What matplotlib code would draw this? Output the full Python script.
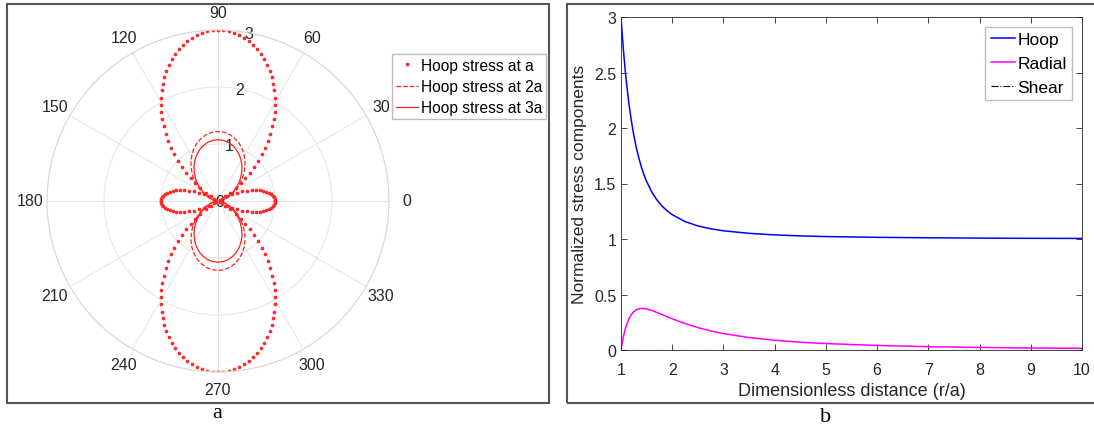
import numpy as np
import matplotlib.pyplot as plt
from matplotlib.patches import Rectangle
from matplotlib.transforms import ScaledTranslation

plt.rcParams['font.family'] = ['Liberation Sans', 'DejaVu Sans']

# panel a: normalised hoop stress around the hole, one quadrant read off
# the polar plot (the figure is symmetric about both axes)
theta_dots = np.arange(0, 90.1, 1.8)          # degrees
hoop_at_a = [1.000, 0.996, 0.984, 0.965, 0.937, 0.902, 0.860, 0.810, 0.753,
             0.689, 0.618, 0.541, 0.458, 0.369, 0.275, 0.176, 0.072, 0.037,
             0.148, 0.264, 0.382, 0.503, 0.625, 0.749, 0.874, 1.000, 1.126,
             1.251, 1.375, 1.497, 1.618, 1.736, 1.852, 1.963, 2.071, 2.176,
             2.275, 2.369, 2.458, 2.541, 2.618, 2.689, 2.753, 2.810, 2.860,
             2.902, 2.937, 2.965, 2.984, 2.996, 3.000]
theta_lines = np.arange(0, 90.1, 5)           # degrees
hoop_at_2a = [0.031, 0.040, 0.067, 0.111, 0.170, 0.243, 0.328, 0.422, 0.522,
              0.625, 0.728, 0.828, 0.922, 1.007, 1.080, 1.139, 1.183, 1.210,
              1.219]
hoop_at_3a = [0.037, 0.045, 0.068, 0.107, 0.158, 0.222, 0.296, 0.378, 0.465,
              0.556, 0.646, 0.733, 0.815, 0.889, 0.953, 1.005, 1.044, 1.067,
              1.074]
polar_labels = ['Hoop stress at a', 'Hoop stress at 2a', 'Hoop stress at 3a']

# panel b: stress components along the line from the hole edge
r_over_a = [1, 1.02, 1.05, 1.08, 1.1, 1.15, 1.2, 1.25, 1.3, 1.35, 1.4, 1.45,
            1.5, 1.6, 1.7, 1.8, 1.9, 2, 2.25, 2.5, 2.75, 3, 3.5, 4, 4.5, 5, 6,
            7, 8, 9, 10]
hoop = [3.0, 2.866, 2.688, 2.531, 2.438, 2.236, 2.070, 1.934, 1.821, 1.726,
        1.645, 1.577, 1.519, 1.424, 1.353, 1.297, 1.254, 1.219, 1.157, 1.118,
        1.092, 1.074, 1.051, 1.037, 1.028, 1.022, 1.015, 1.011, 1.008, 1.006,
        1.005]
radial = [0.0, 0.056, 0.127, 0.184, 0.215, 0.277, 0.318, 0.346, 0.362, 0.371,
          0.375, 0.374, 0.370, 0.357, 0.339, 0.320, 0.300, 0.281, 0.238, 0.202,
          0.172, 0.148, 0.112, 0.088, 0.070, 0.058, 0.041, 0.030, 0.023, 0.018,
          0.015]
shear_r = [1, 10]
shear = [0.0, 0.0]


def mirror(th, r):
    # copy the quadrant into the other three
    th = np.asarray(th, dtype=float)
    r = np.asarray(r, dtype=float)
    t = np.concatenate([th, 180 - th[::-1], 180 + th, 360 - th[::-1]])
    v = np.concatenate([r, r[::-1], r, r[::-1]])
    return np.radians(t), v


W, H = 1094, 427
fig = plt.figure(figsize=(W / 100, H / 100), dpi=100)
txt = '#262626'

# panel frames
fig.patches.append(Rectangle((7 / W, 1 - 404 / H), 542 / W, 399 / H,
                             transform=fig.transFigure, fill=False,
                             edgecolor='#555555', lw=1.5))
fig.patches.append(Rectangle((567 / W, 1 - 404 / H), 540 / W, 399 / H,
                             transform=fig.transFigure, fill=False,
                             edgecolor='#555555', lw=1.5))

# ---- a
ax1 = fig.add_axes([(218 - 171) / W, (H - 202 - 171) / H, 342 / W, 342 / H],
                   projection='polar')
t, v = mirror(theta_dots, hoop_at_a)
ax1.plot(t, v, linestyle='none', marker='.', markersize=3.3, color='#ff2a2a',
         label=polar_labels[0])
t, v = mirror(theta_lines, hoop_at_2a)
ax1.plot(t, v, '--', color='#ff2020', lw=0.9, label=polar_labels[1])
t, v = mirror(theta_lines, hoop_at_3a)
ax1.plot(t, v, '-', color='#ff2020', lw=0.9, label=polar_labels[2])
ax1.set_rlim(0, 3)
ax1.set_rticks([0, 1, 2, 3])
ax1.set_yticklabels(['0', '1', '2', '3'])
ax1.set_rlabel_position(80)
ax1.set_thetagrids(range(0, 360, 30), [str(d) for d in range(0, 360, 30)])
ax1.grid(color='#e4e4e4', lw=0.7)
ax1.spines['polar'].set_color('#d8d8d8')
ax1.spines['polar'].set_linewidth(0.8)
ax1.tick_params(labelsize=11.5, labelcolor=txt)
ax1.tick_params(axis='x', pad=2)
shift = ScaledTranslation(-3 / 100, -8 / 100, fig.dpi_scale_trans)
for lab in ax1.get_yticklabels():
    lab.set_transform(lab.get_transform() + shift)
ax1.legend(loc='upper left', bbox_to_anchor=(392 / W, 1 - 55 / H),
           bbox_transform=fig.transFigure, fancybox=False, framealpha=1,
           edgecolor='#bdbdbd', fontsize=11.2, handlelength=1.4,
           handletextpad=0.2, borderpad=0.25, labelspacing=0.4,
           borderaxespad=0)

# ---- b
ax2 = fig.add_axes([621 / W, (H - 351) / H, 461 / W, 333 / H])
ax2.plot(r_over_a, hoop, color='blue', lw=1.1, label='Hoop')
ax2.plot(r_over_a, radial, color='magenta', lw=1.1, label='Radial')
ax2.plot(shear_r, shear, 'k-.', lw=0.8, label='Shear')
ax2.set_xlim(1, 10)
ax2.set_ylim(0, 3)
ax2.set_xticks(range(1, 11))
ax2.set_yticks([0, 0.5, 1, 1.5, 2, 2.5, 3])
ax2.set_yticklabels(['0', '0.5', '1', '1.5', '2', '2.5', '3'])
ax2.tick_params(direction='in', top=True, right=True, length=4, width=0.6,
                color=txt, labelcolor=txt, labelsize=11.5)
ax2.tick_params(axis='x', pad=9)
for s in ax2.spines.values():
    s.set_color(txt)
    s.set_linewidth(0.6)
ax2.set_xlabel('Dimensionless distance (r/a)', fontsize=13, color=txt,
               labelpad=3)
ax2.set_ylabel('Normalized stress components', fontsize=12.5, color=txt,
               labelpad=5)
ax2.legend(loc='upper right', bbox_to_anchor=(1072 / W, 1 - 28 / H),
           bbox_transform=fig.transFigure, fancybox=False, framealpha=1,
           edgecolor='#bdbdbd', fontsize=12.5, handlelength=1.4,
           handletextpad=0.15, borderpad=0.3, labelspacing=0.5,
           borderaxespad=0)

# captions
fig.text(217 / W, 1 - 414 / H, 'a', ha='center', va='center', fontsize=16,
         family='Liberation Serif')
fig.text(826 / W, 1 - 418 / H, 'b', ha='center', va='center', fontsize=16,
         family='Liberation Serif')

fig.savefig('out.png', dpi=100)
